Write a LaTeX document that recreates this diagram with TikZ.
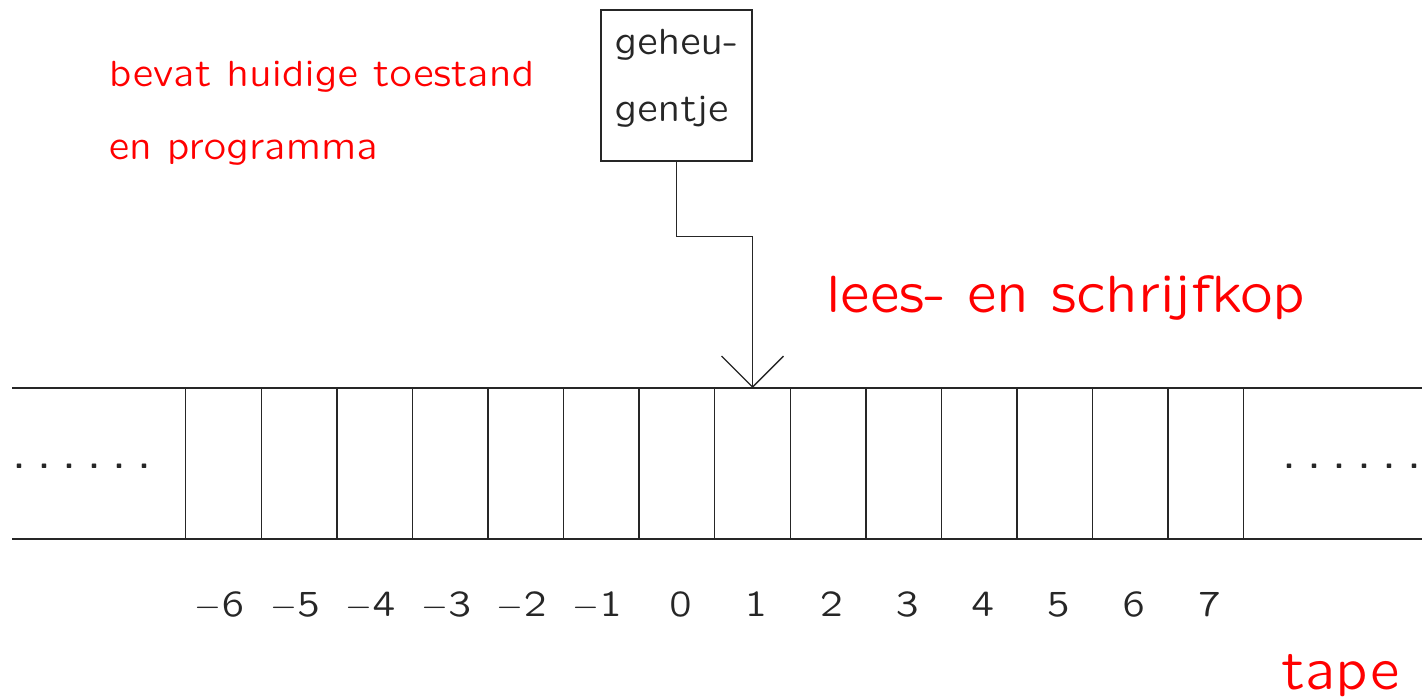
\documentclass[tikz,border=0pt]{standalone}
\usetikzlibrary{arrows.meta}
\DeclareFontFamily{OT1}{xlcss}{}
\DeclareFontShape{OT1}{xlcss}{m}{n}{<-> lcmss8}{}
\newcommand\slf{\fontencoding{OT1}\fontfamily{xlcss}\fontseries{m}\fontshape{n}}
\newcommand\dotrow{\makebox[12.5pt][l]{.}\makebox[12.5pt][l]{.}\makebox[12.5pt][l]{.}\makebox[12.5pt][l]{.}\makebox[12.5pt][l]{.}.}
\begin{document}
\begin{tikzpicture}[x=0.5pt,y=-0.5pt,
  line/.style={line width=0.65pt, draw=black!85},
  cell/.style={line, draw, rectangle, minimum width=37.785pt, minimum height=75.5pt, inner sep=0pt, outer sep=0pt},
  redsmall/.style={text=red, font=\slf\fontsize{18.2}{22}\selectfont, anchor=base west, inner sep=0pt},
  redbig/.style={text=red, font=\slf\fontsize{26.2}{31}\selectfont, anchor=base west, inner sep=0pt},
  num/.style={text=black!85, font=\slf\fontsize{18.2}{22}\selectfont, anchor=base, inner sep=0pt},
  dots/.style={text=black!85, font=\slf\fontsize{23}{26}\selectfont, anchor=base west, inner sep=0pt},
  membox/.style={line, draw, minimum width=75.5pt, minimum height=75.5pt, inner sep=0pt, align=left, text=black!85, font=\slf\fontsize{18.2}{33.5}\selectfont}
]
\useasboundingbox (0,0) rectangle (1422,700);
% tape
\coordinate (tl) at (12,388);
\coordinate (tr) at (1422,388);
\coordinate (bl) at (12,539);
\coordinate (br) at (1422,539);
\draw[line] (tl) -- (tr);
\draw[line] (bl) -- (br);
\foreach \i in {-6,...,7} {
  \node[cell] (c\i) at ({223.5+(\i+6)*75.57},463.5) {};
  \ifnum\i<0
    \node[num] (n\i) at ({219.5+(\i+6)*75.57},616) {$-$\the\numexpr-\i\relax};
  \else
    \node[num] (n\i) at ({227+(\i+6)*75.57},616) {\i};
  \fi
}
\node[dots] (dl) at (11,468) {\dotrow};
\node[dots] (dr) at (1281,468) {\dotrow};
% memory
\node[membox] (mem) at (676.5,85.5) {geheu-\\gentje\rule[-10pt]{0pt}{0pt}};
\draw[line, -{Straight Barb[length=15.5pt,width=31pt]}] (mem.south) -- ++(0,75) -| (c1.north);
% labels
\node[redsmall] (t1) at (108.5,87) {bevat huidige toestand};
\node[redsmall] (t2) at (108.5,160) {en programma};
\node[redbig] (kop) at (826,312) {lees- en schrijfkop};
\node[redbig] (tape) at (1281,689) {tape};
\end{tikzpicture}
\end{document}
